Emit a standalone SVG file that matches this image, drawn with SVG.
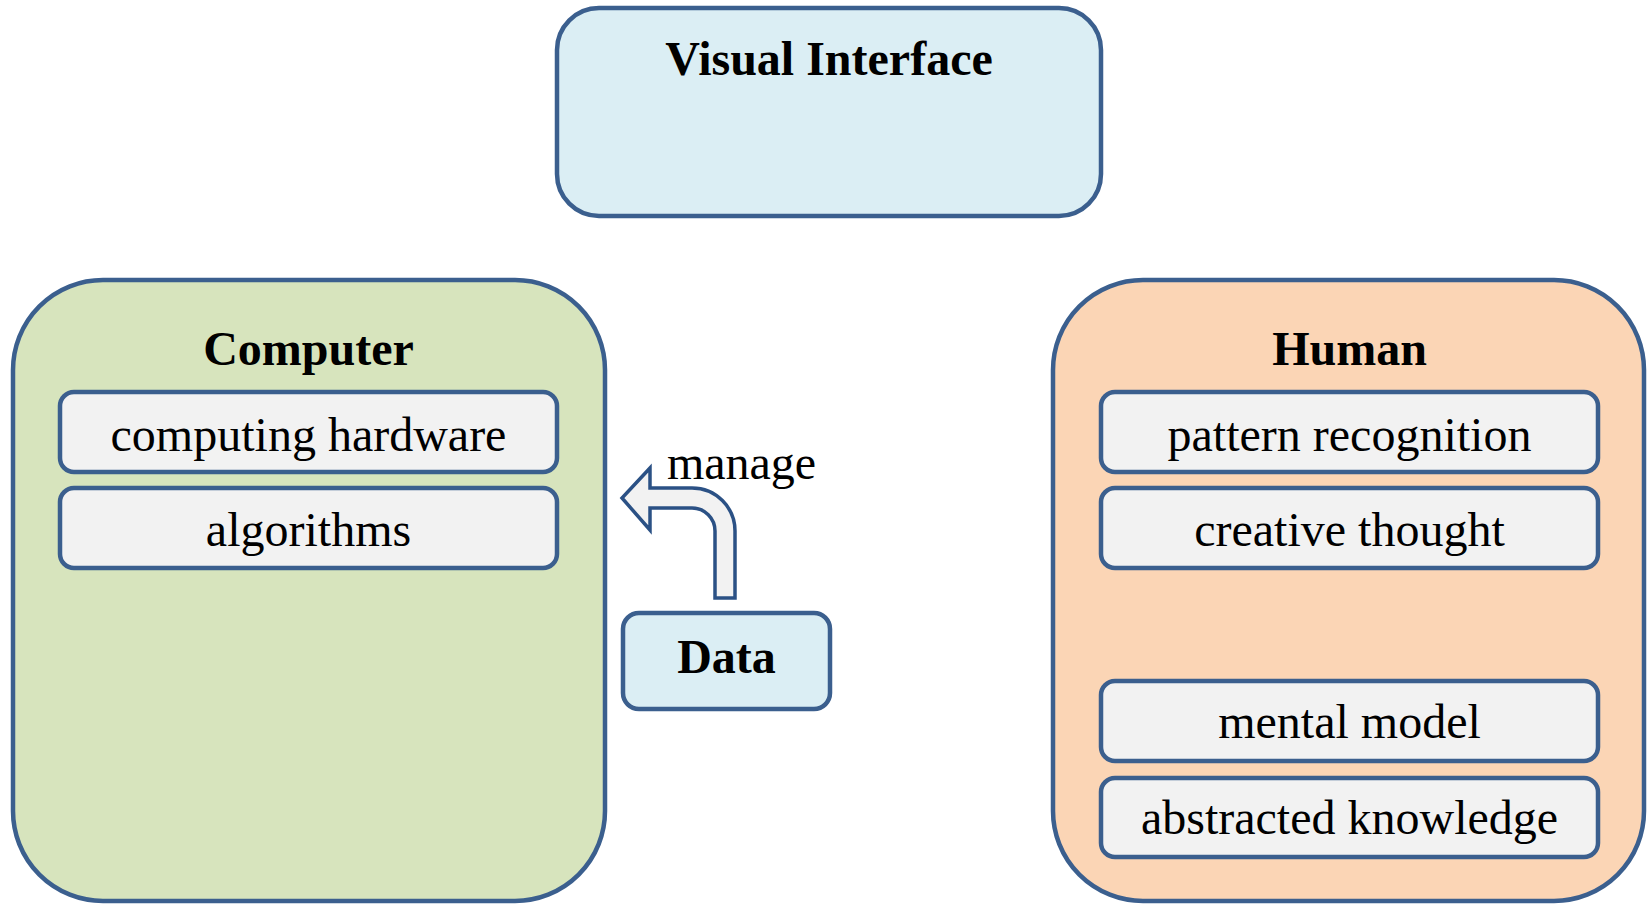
<svg xmlns="http://www.w3.org/2000/svg" width="1647" height="904" viewBox="0 0 1647 904">
  <style>
    .box { stroke: #3b5f8e; stroke-width: 4.5; }
    .item { fill: #f2f2f2; stroke: #3b5f8e; stroke-width: 4.5; }
    .title { font-family: "Liberation Serif", "Times New Roman", serif; font-weight: bold; font-size: 48px; fill: #000; text-anchor: middle; }
    .label { font-family: "Liberation Serif", "Times New Roman", serif; font-size: 48px; fill: #000; text-anchor: middle; }
  </style>
  <rect width="1647" height="904" fill="#ffffff"/>
  <g id="visual-interface">
    <rect class="box" x="557" y="8" width="544" height="208" rx="42" fill="#dbeef4"/>
    <text class="title" x="829" y="75">Visual Interface</text>
  </g>
  <g id="computer">
    <rect class="box" x="13" y="280" width="592" height="621" rx="90" fill="#d7e4bd"/>
    <text class="title" x="308.5" y="365">Computer</text>
  </g>
  <g id="computing-hardware">
    <rect class="item" x="60" y="392" width="497" height="80" rx="14"/>
    <text class="label" x="308.5" y="451">computing hardware</text>
  </g>
  <g id="algorithms">
    <rect class="item" x="60" y="488" width="497" height="80" rx="14"/>
    <text class="label" x="308.5" y="546">algorithms</text>
  </g>
  <g id="human">
    <rect class="box" x="1053" y="280" width="591" height="621" rx="90" fill="#fbd5b5"/>
    <text class="title" x="1349.5" y="365">Human</text>
  </g>
  <g id="pattern-recognition">
    <rect class="item" x="1101" y="392" width="497" height="80" rx="14"/>
    <text class="label" x="1349.5" y="451">pattern recognition</text>
  </g>
  <g id="creative-thought">
    <rect class="item" x="1101" y="488" width="497" height="80" rx="14"/>
    <text class="label" x="1349.5" y="546">creative thought</text>
  </g>
  <g id="mental-model">
    <rect class="item" x="1101" y="681" width="497" height="80" rx="14"/>
    <text class="label" x="1349.5" y="738">mental model</text>
  </g>
  <g id="abstracted-knowledge">
    <rect class="item" x="1101" y="778" width="497" height="79" rx="14"/>
    <text class="label" x="1349.5" y="834">abstracted knowledge</text>
  </g>
  <g id="data">
    <rect class="box" x="623" y="613" width="207" height="96" rx="16" fill="#dbeef4"/>
    <text class="title" x="726.5" y="673">Data</text>
  </g>
  <g id="connectors">
    <path d="M715,598 L715,531 A23,23 0 0 0 692,508 L650,508 L650,530 L622,498 L650,468 L650,488 L692,488 A43,43 0 0 1 735,531 L735,598 Z" fill="#f2f2f2" stroke="#2b5185" stroke-width="3.5" stroke-linejoin="miter"/>
    <text class="label" x="741.5" y="479">manage</text>
  </g>
</svg>
